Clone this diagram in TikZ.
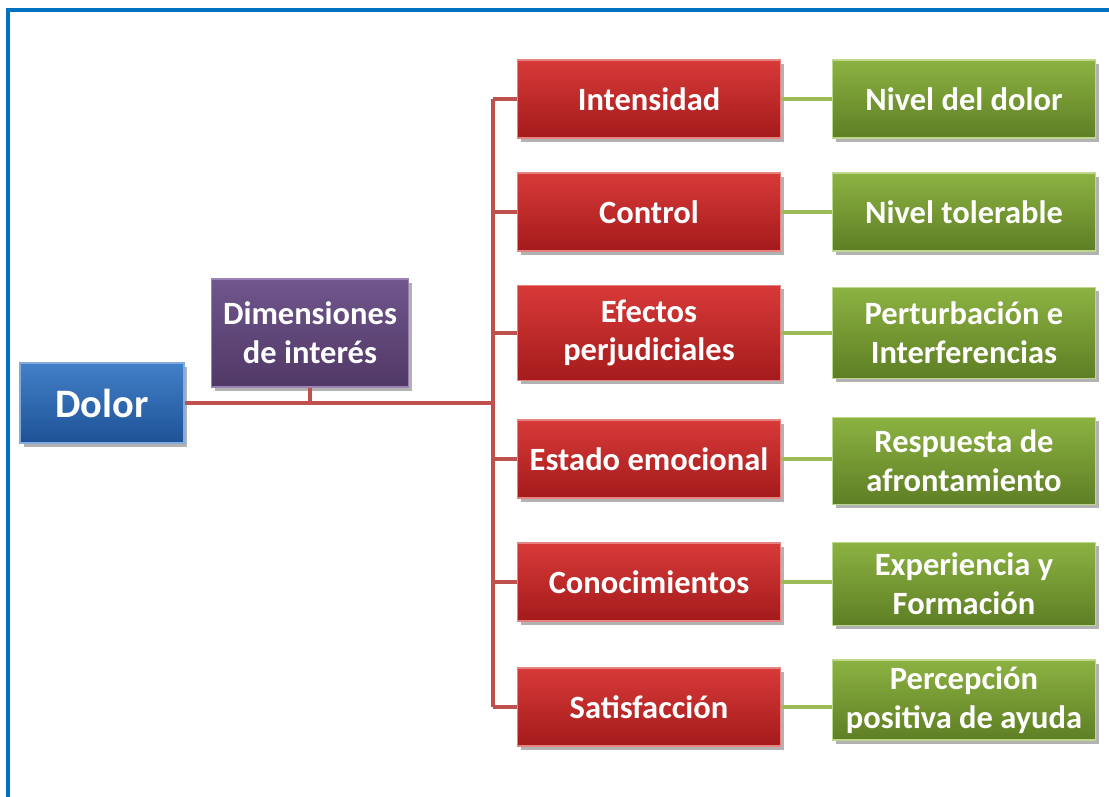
\documentclass[tikz,border=0pt]{standalone}
\usepackage{fontspec}
\setmainfont{Carlito}
\usepackage{tikz}
\usetikzlibrary{shadows, positioning}

\definecolor{framecol}{RGB}{0,112,192}
\definecolor{redline}{RGB}{192,80,77}
\definecolor{greenline}{RGB}{155,187,89}

\tikzset{
    box/.style={draw=white!70!black, line width=0.6pt, inner sep=2pt, align=center,
        text=white, font=\bfseries\fontsize{18.5}{22}\selectfont,
        drop shadow={shadow xshift=2pt, shadow yshift=-2pt, opacity=0.3, fill=black}},
    bluebox/.style={box, top color={rgb,255:red,66;green,128;blue,200}, bottom color={rgb,255:red,30;green,82;blue,150},
        draw={rgb,255:red,130;green,170;blue,220}, minimum width=3.28cm, minimum height=1.6cm,
        font=\bfseries\fontsize{23}{27}\selectfont},
    purplebox/.style={box, top color={rgb,255:red,112;green,86;blue,140}, bottom color={rgb,255:red,80;green,56;blue,102},
        draw={rgb,255:red,155;green,130;blue,180}, minimum width=3.94cm, minimum height=2.16cm},
    redbox/.style={box, top color={rgb,255:red,215;green,58;blue,56}, bottom color={rgb,255:red,165;green,26;blue,28},
        draw={rgb,255:red,230;green,130;blue,128}, minimum width=5.26cm, minimum height=1.56cm},
    greenbox/.style={box, top color={rgb,255:red,140;green,178;blue,66}, bottom color={rgb,255:red,94;green,126;blue,36},
        draw={rgb,255:red,190;green,215;blue,140}, minimum width=5.26cm, minimum height=1.56cm},
    redconn/.style={draw=redline, line width=2pt},
    greenconn/.style={draw=greenline, line width=2pt}
}

\begin{document}
\begin{tikzpicture}[x=0.02cm, y=-0.02cm]
    \useasboundingbox (0,0) rectangle (1109,796);
    \draw[framecol, line width=1.8pt] (8,800) -- (8,10) -- (1115,10);

    % trunk point
    \coordinate (t) at (493,403);

    \node[bluebox] (dolor) at (102,403) {Dolor};
    \node[purplebox] (dim) at (310,333) {Dimensiones\\de interés};

    \node[redbox] (r1) at (649,99) {Intensidad};
    \node[redbox] (r2) at (649,212) {Control};
    \node[redbox, minimum height=1.9cm] (r3) at (649,333) {Efectos\\perjudiciales};
    \node[redbox] (r4) at (649,459) {Estado emocional};
    \node[redbox] (r5) at (649,582) {Conocimientos};
    \node[redbox] (r6) at (649,707) {Satisfacción};

    \node[greenbox] (g1) at (964,99) {Nivel del dolor};
    \node[greenbox] (g2) at (964,212) {Nivel tolerable};
    \node[greenbox, minimum height=1.82cm] (g3) at (964,333) {Perturbación e\\Interferencias};
    \node[greenbox, minimum height=1.74cm] (g4) at (964,461) {Respuesta de\\afrontamiento};
    \node[greenbox, minimum height=1.66cm] (g5) at (964,584) {Experiencia y\\Formación};
    \node[greenbox, minimum height=1.6cm] (g6) at (964,700) {Percepción\\positiva de ayuda};

    % connectors
    \draw[redconn] (dolor.east) -- (t);
    \draw[redconn] (dim.south) -- (dim.south |- t);
    \draw[redconn] (r1.west -| t) -- (r6.west -| t);
    \foreach \i in {1,...,6} {
        \draw[redconn] (r\i.west -| t) -- (r\i.west);
        \draw[greenconn] (r\i.east) -- (r\i.east -| g\i.west);
    }
\end{tikzpicture}
\end{document}
